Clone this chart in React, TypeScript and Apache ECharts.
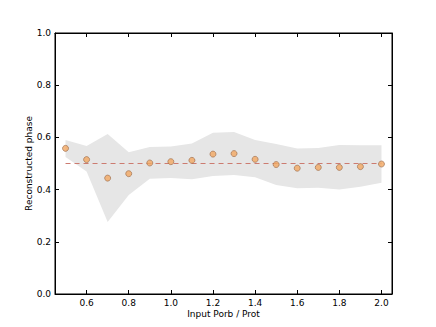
import React, { useEffect, useRef } from "react";
import * as echarts from "echarts";

const xValues = [0.5, 0.6, 0.7, 0.8, 0.9, 1.0, 1.1, 1.2, 1.3, 1.4, 1.5, 1.6, 1.7, 1.8, 1.9, 2.0];
const phase = [0.558, 0.515, 0.444, 0.461, 0.502, 0.507, 0.512, 0.536, 0.538, 0.516, 0.496, 0.482, 0.485, 0.485, 0.488, 0.498];
const bandUpper = [0.59, 0.567, 0.613, 0.543, 0.563, 0.565, 0.577, 0.618, 0.621, 0.59, 0.575, 0.557, 0.559, 0.571, 0.57, 0.57];
const bandLower = [0.525, 0.469, 0.276, 0.379, 0.442, 0.444, 0.44, 0.452, 0.456, 0.447, 0.418, 0.405, 0.407, 0.4, 0.411, 0.426];
const referenceLine = [0.5, 0.5];
const referenceX = [0.5, 2.0];
const xTicks = [0.6, 0.8, 1.0, 1.2, 1.4, 1.6, 1.8, 2.0];

const FONT = "DejaVu Sans";

export default function App() {
  const ref = useRef<HTMLDivElement>(null);
  useEffect(() => {
    if (!ref.current) return;
    const chart = echarts.init(ref.current, undefined, { renderer: "svg" });
    const tickStyle = { show: true, inside: true, length: 4, lineStyle: { color: "#000", width: 1 } };
    const lineStyle = { show: true, lineStyle: { color: "#000", width: 1 } };
    chart.setOption({
      animation: false,
      backgroundColor: "#fff",
      grid: {
        left: 55,
        top: 33,
        right: 44,
        bottom: 33,
        containLabel: false,
        show: true,
        borderColor: "#000",
        borderWidth: 1,
        backgroundColor: "transparent",
      },
      xAxis: [
        {
          type: "value",
          min: 0.45,
          max: 2.05,
          position: "bottom",
          axisLine: { ...lineStyle, onZero: false },
          axisTick: { ...tickStyle, customValues: xTicks },
          axisLabel: {
            customValues: xTicks,
            formatter: (v: number) => v.toFixed(1),
            color: "#000",
            fontFamily: FONT,
            fontSize: 9,
            margin: 4,
          },
          splitLine: { show: false },
          name: "Input Porb / Prot",
          nameLocation: "middle",
          nameGap: 15,
          nameMoveOverlap: false,
          nameTextStyle: { color: "#000", fontFamily: FONT, fontSize: 9 },
        },
        {
          type: "value",
          min: 0.45,
          max: 2.05,
          position: "top",
          axisLine: { ...lineStyle, onZero: false },
          axisTick: { ...tickStyle, customValues: xTicks },
          axisLabel: { show: false },
          splitLine: { show: false },
        },
      ],
      yAxis: [
        {
          type: "value",
          min: 0,
          max: 1,
          interval: 0.2,
          position: "left",
          axisLine: { ...lineStyle, onZero: false },
          axisTick: tickStyle,
          axisLabel: {
            formatter: (v: number) => v.toFixed(1),
            color: "#000",
            fontFamily: FONT,
            fontSize: 9,
            margin: 4,
          },
          splitLine: { show: false },
          name: "Reconstructed phase",
          nameLocation: "middle",
          nameGap: 22,
          nameMoveOverlap: false,
          nameTextStyle: { color: "#000", fontFamily: FONT, fontSize: 9 },
        },
        {
          type: "value",
          min: 0,
          max: 1,
          interval: 0.2,
          position: "right",
          axisLine: { ...lineStyle, onZero: false },
          axisTick: tickStyle,
          axisLabel: { show: false },
          splitLine: { show: false },
        },
      ],
      series: [
        {
          type: "custom",
          silent: true,
          z: 1,
          data: [0],
          renderItem: (_params: any, api: any) => {
            const upper = xValues.map((x, i) => api.coord([x, bandUpper[i]]));
            const lower = xValues.map((x, i) => api.coord([x, bandLower[i]])).reverse();
            return {
              type: "polygon",
              shape: { points: upper.concat(lower) },
              style: { fill: "#e6e6e6", stroke: "none" },
            };
          },
        },
        {
          type: "line",
          data: referenceX.map((x, i) => [x, referenceLine[i]]),
          symbol: "none",
          lineStyle: { color: "#cc7b70", width: 1, type: [5, 4] },
          silent: true,
          z: 2,
        },
        {
          type: "scatter",
          data: xValues.map((x, i) => [x, phase[i]]),
          symbol: "circle",
          symbolSize: 6,
          itemStyle: { color: "#f2a862", borderColor: "#9a6a48", borderWidth: 0.8 },
          z: 3,
        },
      ],
    });
    return () => chart.dispose();
  }, []);
  return <div ref={ref} style={{ width: 436, height: 327, position: "absolute", left: 0, top: 0 }} />;
}
